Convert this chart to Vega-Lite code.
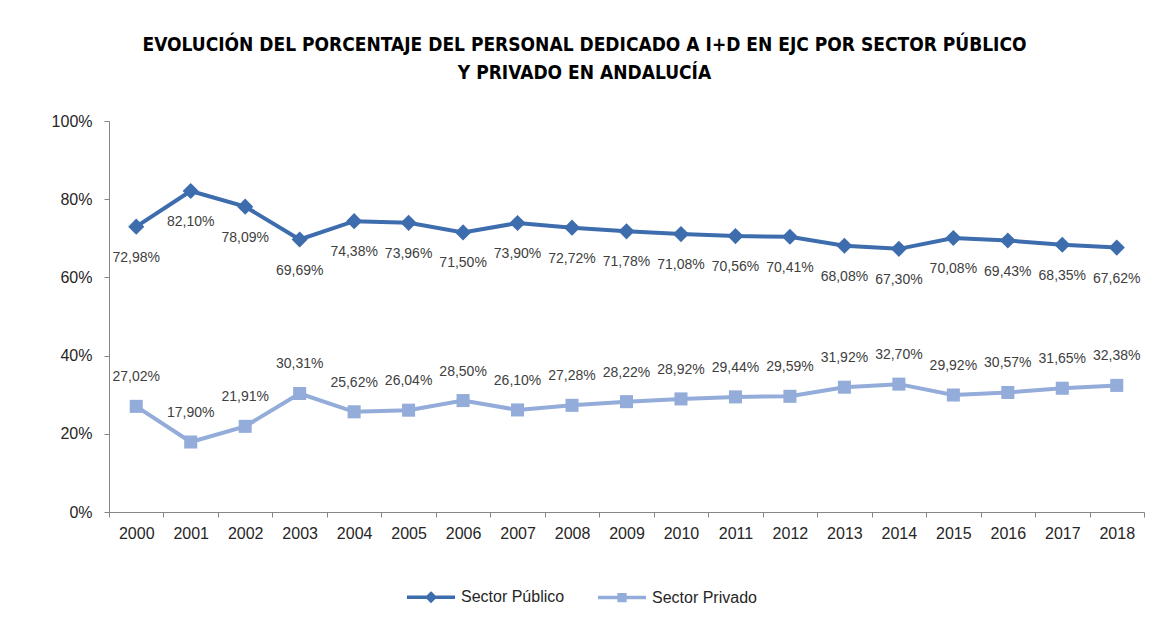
{
  "$schema": "https://vega.github.io/schema/vega-lite/v6.json",
  "width": 1035,
  "height": 391,
  "autosize": "none",
  "padding": {"left": 109, "top": 121, "right": 13, "bottom": 111},
  "background": "white",
  "config": {
    "locale": {"number": {"decimal": ",", "thousands": ".", "grouping": [3], "currency": ["", " €"]}},
    "view": {"stroke": null},
    "font": "Liberation Sans"
  },
  "title": {
    "text": ["EVOLUCIÓN DEL PORCENTAJE DEL PERSONAL DEDICADO A I+D EN EJC POR SECTOR PÚBLICO", "Y PRIVADO EN ANDALUCÍA"],
    "font": "DejaVu Sans Condensed, Liberation Sans, sans-serif",
    "fontSize": 19,
    "fontWeight": "bold",
    "color": "#000000",
    "anchor": "middle",
    "dx": -42,
    "offset": 30,
    "lineHeight": 28
  },
  "data": {
    "values": [
      {"year": "2000", "sector": "Sector Público", "value": 0.7298},
      {"year": "2001", "sector": "Sector Público", "value": 0.8210},
      {"year": "2002", "sector": "Sector Público", "value": 0.7809},
      {"year": "2003", "sector": "Sector Público", "value": 0.6969},
      {"year": "2004", "sector": "Sector Público", "value": 0.7438},
      {"year": "2005", "sector": "Sector Público", "value": 0.7396},
      {"year": "2006", "sector": "Sector Público", "value": 0.7150},
      {"year": "2007", "sector": "Sector Público", "value": 0.7390},
      {"year": "2008", "sector": "Sector Público", "value": 0.7272},
      {"year": "2009", "sector": "Sector Público", "value": 0.7178},
      {"year": "2010", "sector": "Sector Público", "value": 0.7108},
      {"year": "2011", "sector": "Sector Público", "value": 0.7056},
      {"year": "2012", "sector": "Sector Público", "value": 0.7041},
      {"year": "2013", "sector": "Sector Público", "value": 0.6808},
      {"year": "2014", "sector": "Sector Público", "value": 0.6730},
      {"year": "2015", "sector": "Sector Público", "value": 0.7008},
      {"year": "2016", "sector": "Sector Público", "value": 0.6943},
      {"year": "2017", "sector": "Sector Público", "value": 0.6835},
      {"year": "2018", "sector": "Sector Público", "value": 0.6762},
      {"year": "2000", "sector": "Sector Privado", "value": 0.2702},
      {"year": "2001", "sector": "Sector Privado", "value": 0.1790},
      {"year": "2002", "sector": "Sector Privado", "value": 0.2191},
      {"year": "2003", "sector": "Sector Privado", "value": 0.3031},
      {"year": "2004", "sector": "Sector Privado", "value": 0.2562},
      {"year": "2005", "sector": "Sector Privado", "value": 0.2604},
      {"year": "2006", "sector": "Sector Privado", "value": 0.2850},
      {"year": "2007", "sector": "Sector Privado", "value": 0.2610},
      {"year": "2008", "sector": "Sector Privado", "value": 0.2728},
      {"year": "2009", "sector": "Sector Privado", "value": 0.2822},
      {"year": "2010", "sector": "Sector Privado", "value": 0.2892},
      {"year": "2011", "sector": "Sector Privado", "value": 0.2944},
      {"year": "2012", "sector": "Sector Privado", "value": 0.2959},
      {"year": "2013", "sector": "Sector Privado", "value": 0.3192},
      {"year": "2014", "sector": "Sector Privado", "value": 0.3270},
      {"year": "2015", "sector": "Sector Privado", "value": 0.2992},
      {"year": "2016", "sector": "Sector Privado", "value": 0.3057},
      {"year": "2017", "sector": "Sector Privado", "value": 0.3165},
      {"year": "2018", "sector": "Sector Privado", "value": 0.3238}
    ]
  },
  "encoding": {
    "x": {
      "field": "year",
      "type": "ordinal",
      "scale": {"type": "band", "paddingInner": 0, "paddingOuter": 0},
      "axis": {
        "title": null,
        "labelAngle": 0,
        "tickBand": "extent",
        "domainColor": "#868686",
        "tickColor": "#868686",
        "tickSize": 5,
        "labelPadding": 8,
        "labelFontSize": 16,
        "labelColor": "#262626",
        "grid": false
      }
    },
    "y": {
      "field": "value",
      "type": "quantitative",
      "scale": {"domain": [0, 1]},
      "axis": {
        "title": null,
        "values": [0, 0.2, 0.4, 0.6, 0.8, 1],
        "format": ".0%",
        "domainColor": "#868686",
        "tickColor": "#868686",
        "tickSize": 5,
        "labelPadding": 12,
        "labelFontSize": 16,
        "labelColor": "#262626",
        "grid": false
      }
    }
  },
  "layer": [
    {
      "mark": {"type": "line", "strokeWidth": 4},
      "encoding": {
        "color": {
          "field": "sector",
          "type": "nominal",
          "sort": ["Sector Público", "Sector Privado"],
          "scale": {"domain": ["Sector Público", "Sector Privado"], "range": ["#3E6DAE", "#93ACD9"]},
          "legend": {
            "title": null,
            "orient": "none",
            "direction": "horizontal",
            "legendX": 296,
            "legendY": 450,
            "labelFontSize": 16,
            "labelColor": "#262626",
            "labelOffset": 4,
            "columnPadding": 26,
            "symbolStrokeWidth": 3.5,
            "symbolOpacity": 1
          }
        }
      }
    },
    {
      "mark": {"type": "point", "filled": false, "opacity": 0, "size": 2304},
      "encoding": {
        "color": {"field": "sector", "type": "nominal"},
        "shape": {
          "field": "sector",
          "type": "nominal",
          "sort": ["Sector Público", "Sector Privado"],
          "scale": {"domain": ["Sector Público", "Sector Privado"], "range": ["M-1,0H1M0,-0.15L0.15,0L0,0.15L-0.15,0Z", "M-1,0H1M-0.12,-0.12H0.12V0.12H-0.12Z"]},
          "legend": {
            "title": null,
            "orient": "none",
            "direction": "horizontal",
            "legendX": 296,
            "legendY": 450,
            "labelFontSize": 16,
            "labelColor": "#262626",
            "labelOffset": 4,
            "columnPadding": 26,
            "symbolStrokeWidth": 3.5,
            "symbolOpacity": 1,
            "symbolSize": 2304
          }
        }
      }
    },
    {
      "transform": [{"filter": "datum.sector === 'Sector Público'"}],
      "mark": {"type": "point", "shape": "diamond", "filled": true, "opacity": 1, "size": 260, "color": "#3E6DAE"}
    },
    {
      "transform": [{"filter": "datum.sector === 'Sector Privado'"}],
      "mark": {"type": "point", "shape": "square", "filled": true, "opacity": 1, "size": 170, "color": "#93ACD9"}
    },
    {
      "transform": [{"filter": "datum.sector === 'Sector Público'"}],
      "mark": {"type": "text", "dy": 31, "fontSize": 14, "color": "#404040", "baseline": "middle"},
      "encoding": {"text": {"field": "value", "type": "quantitative", "format": ".2%"}}
    },
    {
      "transform": [{"filter": "datum.sector === 'Sector Privado'"}],
      "mark": {"type": "text", "dy": -29, "fontSize": 14, "color": "#404040", "baseline": "middle"},
      "encoding": {"text": {"field": "value", "type": "quantitative", "format": ".2%"}}
    }
  ]
}
